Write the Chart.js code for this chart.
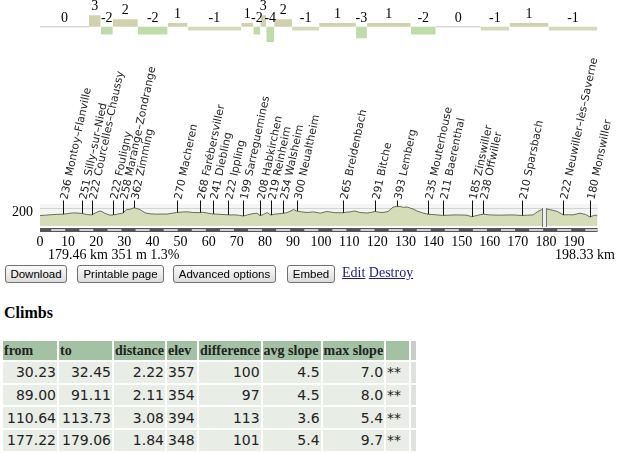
<!DOCTYPE html>
<html>
<head>
<meta charset="utf-8">
<title>Route profile</title>
<script src="https://cdn.jsdelivr.net/npm/chart.js@4.4.0/dist/chart.umd.min.js"></script>
<style>
body { margin: 0; width: 640px; height: 453px; overflow: hidden; background: #fff; font-family: "Liberation Serif", serif; }
#gradeChart { position: absolute; left: 0; top: 0; }
#profileChart { position: absolute; left: 0; top: 44px; }
.txt { position: absolute; font: 14px "Liberation Serif", serif; line-height: 16px; white-space: nowrap; color: #000; }
.btn { position: absolute; top: 265px; height: 18px; box-sizing: border-box; border: 1px solid #707070; border-radius: 3px;
       background: linear-gradient(#fbfbfb, #dcdcdc); font: 11.5px "Liberation Sans", sans-serif; line-height: 16px;
       text-align: center; padding: 0; color: #000; }
.txt a { color: #1a1a8c; }
h3 { position: absolute; left: 4px; top: 304px; margin: 0; font: bold 16px "Liberation Serif", serif; line-height: 18px; }
table { position: absolute; left: 1px; top: 339px; border-spacing: 2px; table-layout: fixed; color: #222; white-space: nowrap; }
th { background: #a3c2a3; font: bold 14px "Liberation Serif", serif; text-align: left; height: 19px; padding: 0 1px; overflow: hidden; }
td { background: #e8ede6; font: 14px "DejaVu Sans", sans-serif; height: 20.7px; line-height: 18px; padding: 0 1px; text-align: right; overflow: hidden; }
td.l { text-align: left; }
th.e { background: #c8cfc8; }
td.e { background: #dde2dc; }
</style>
</head>
<body>
<canvas id="gradeChart" width="640" height="44"></canvas>
<canvas id="profileChart" width="640" height="206"></canvas>

<div class="txt" style="left:48px; top:247px;">179.46 km 351 m 1.3%</div>
<div class="txt" style="left:555px; top:247px;">198.33 km</div>

<button class="btn" style="left:5px; width:62px;">Download</button>
<button class="btn" style="left:77px; width:87px;">Printable page</button>
<button class="btn" style="left:173px; width:103px;">Advanced options</button>
<button class="btn" style="left:287px; width:48px;">Embed</button>
<div class="txt" style="left:342px; top:265px;"><a href="#">Edit</a> <a href="#">Destroy</a></div>

<h3>Climbs</h3>
<table>
<colgroup><col style="width:54px"><col style="width:53px"><col style="width:51px"><col style="width:30px"><col style="width:61px"><col style="width:58px"><col style="width:61px"><col style="width:23px"><col style="width:5px"></colgroup>
<tr><th>from</th><th>to</th><th>distance</th><th>elev</th><th>difference</th><th>avg slope</th><th>max slope</th><th></th><th class="e"></th></tr>
<tr><td>30.23</td><td>32.45</td><td>2.22</td><td class="l">357</td><td>100</td><td>4.5</td><td>7.0</td><td class="l">**</td><td class="e"></td></tr>
<tr><td>89.00</td><td>91.11</td><td>2.11</td><td class="l">354</td><td>97</td><td>4.5</td><td>8.0</td><td class="l">**</td><td class="e"></td></tr>
<tr><td>110.64</td><td>113.73</td><td>3.08</td><td class="l">394</td><td>113</td><td>3.6</td><td>5.4</td><td class="l">**</td><td class="e"></td></tr>
<tr><td>177.22</td><td>179.06</td><td>1.84</td><td class="l">348</td><td>101</td><td>5.4</td><td>9.7</td><td class="l">**</td><td class="e"></td></tr>
</table>

<script>
// Gradient strip: segment boundaries (km) and the gradient (%) of each segment
const gradeBounds = [0, 17.4, 21.6, 25.9, 34.8, 45.4, 52.5, 71.6, 75.9, 78.4, 80.5, 83.3, 89.7, 99.3, 112.4, 116.3, 131.9, 140.8, 156.7, 167, 180.9, 198.33];
const gradeValues = [0, 3, -2, 2, -2, 1, -1, 1, -2, 3, -4, 2, -1, 1, -3, 1, -2, 0, -1, 1, -1];

// Elevation profile (km, m)
const profileKm = [0, 2, 3.6, 6, 8.3, 10, 11.9, 13.5, 14.8, 16.7, 18.4, 20, 21.3, 22.2, 23.1, 24.9, 26.1, 27.8, 29.4, 30.9,
    32.2, 33.4, 34.5, 35.6, 37.4, 39.1, 41.6, 43.5, 45.2, 47, 48.6, 50.5, 52.3, 54.4, 56.9, 58, 59.4, 61.4, 63.3, 65.1,
    67, 69.4, 71, 72.3, 73.8, 75.4, 77.2, 78.3, 79.5, 80.8, 82.1, 83.4, 84.7, 86.6, 88, 89.2, 90.2, 91.3, 93, 95,
    97.3, 99.7, 102, 103.5, 105, 107.9, 109, 110.3, 112, 113.8, 116.3, 118, 119.2, 120.5, 122, 123.8, 125.6, 126.9, 128.1, 129.3,
    130.6, 131.6, 132.7, 134.1, 136.2, 138.1, 140.5, 143.3, 145.8, 148.3, 151.9, 153.6, 155.5, 157.7, 160, 163.6, 167.2, 169.5, 171.4, 173.5,
    175.4, 177.2, 179.46, 181.5, 183.9, 186.2, 188, 189.6, 192.1, 194, 195.7, 197, 198.33];
const profileElev = [210, 216, 224, 232, 236, 250, 262, 258, 251, 230, 222, 270, 300, 284, 252, 216, 222, 240, 258, 330,
    338, 362, 350, 326, 262, 244, 236, 240, 238, 256, 270, 280, 284, 270, 268, 276, 260, 241, 236, 230,
    222, 222, 212, 199, 222, 244, 256, 208, 232, 270, 219, 236, 244, 254, 270, 300, 330, 300, 284, 270,
    282, 256, 290, 278, 266, 265, 276, 282, 300, 270, 260, 274, 291, 276, 270, 290, 376, 393, 390, 372,
    380, 360, 340, 300, 260, 235, 226, 211, 218, 222, 216, 185, 212, 238, 222, 216, 222, 218, 210, 216,
    222, 294, 351, 326, 294, 222, 226, 222, 256, 232, 180, 212, 216];

// Places along the route
const placeKm = [8.3, 14.8, 18.4, 26.1, 29.4, 33.4, 48.6, 56.9, 61.4, 67, 72.3, 78.3, 82.1, 86.6, 91.3,
    107.9, 119.2, 126.9, 138.1, 143.3, 153.6, 157.7, 171.4, 186.2, 195.7];
const placeElev = [236, 251, 222, 222, 258, 362, 270, 268, 241, 222, 199, 208, 219, 254, 300,
    265, 291, 393, 235, 211, 185, 238, 210, 222, 180];
const placeNames = ['Montoy–Flanville', 'Silly–sur–Nied', 'Courcelles–Chaussy', 'Fouligny', 'Marange–Zondrange', 'Zimming',
    'Macheren', 'Farébersviller', 'Diebling', 'Ippling', 'Sarreguemines', 'Habkirchen', 'Reinheim', 'Walsheim', 'Neualtheim',
    'Breidenbach', 'Bitche', 'Lemberg', 'Mouterhouse', 'Baerenthal', 'Zinswiller', 'Offwiller', 'Sparsbach',
    'Neuwiller–lès–Saverne', 'Monswiller'];

// Axes
const xTicks = [0, 10, 20, 30, 40, 50, 60, 70, 80, 90, 100, 110, 120, 130, 140, 150, 160, 170, 180, 190];
const yGrid = [200, 250, 300, 350, 400];
const yLabels = [200];
const totalKm = 198.33;
const markerKm = 179.46;

// Colour of a gradient block
function gradeColor(v) {
    if (v > 0) return '#cfd2ad';
    if (v <= -2) return '#bddca9';
    return '#d3d9b9';
}

// Numbers above the gradient blocks
const gradeLabels = {
    id: 'gradeLabels',
    afterDatasetsDraw(chart) {
        const { ctx, scales: { x, y } } = chart;
        ctx.save();
        ctx.font = '14px "Liberation Serif"';
        ctx.fillStyle = '#000';
        ctx.textAlign = 'center';
        ctx.textBaseline = 'alphabetic';
        gradeValues.forEach((v, i) => {
            const px = (x.getPixelForValue(gradeBounds[i]) + x.getPixelForValue(gradeBounds[i + 1])) / 2;
            const py = y.getPixelForValue(Math.max(v, 0)) - 5;
            ctx.fillText(String(v), px, py);
        });
        ctx.restore();
    }
};

new Chart(document.getElementById('gradeChart'), {
    type: 'line',
    data: {
        datasets: gradeValues.map((v, i) => ({
            data: [{ x: gradeBounds[i], y: v }, { x: gradeBounds[i + 1], y: v }],
            fill: v === 0 ? false : 'origin',
            backgroundColor: gradeColor(v),
            borderColor: v === 0 ? '#c4c4c4' : 'rgba(0,0,0,0)',
            borderWidth: 1,
            pointRadius: 0
        }))
    },
    options: {
        responsive: false,
        devicePixelRatio: 1,
        animation: false,
        layout: { padding: { left: 40, right: 42.5, top: 0, bottom: 0 } },
        plugins: { legend: { display: false }, tooltip: { enabled: false } },
        scales: {
            x: { type: 'linear', min: 0, max: totalKm, display: false },
            y: { min: -4.5, max: 7, display: false }
        }
    },
    plugins: [gradeLabels]
});

// Background, distance bar, position marker and place labels of the profile
const profileExtras = {
    id: 'profileExtras',
    beforeDraw(chart) {
        const { ctx, chartArea: a } = chart;
        ctx.save();
        ctx.fillStyle = '#f4f4f4';
        ctx.fillRect(a.left, a.top, a.right - a.left, a.bottom - a.top);
        ctx.restore();
    },
    afterDraw(chart) {
        const { ctx, chartArea: a, scales: { x, y } } = chart;
        ctx.save();

        // distance bar under the profile
        ctx.fillStyle = '#555';
        ctx.fillRect(x.getPixelForValue(0), a.bottom + 2, x.getPixelForValue(totalKm) - x.getPixelForValue(0), 4);
        ctx.fillStyle = '#cfcfcf';
        xTicks.forEach(v => {
            const s = x.getPixelForValue(v + 4);
            const e = x.getPixelForValue(Math.min(v + 9, totalKm));
            if (e > s) ctx.fillRect(s, a.bottom + 3, e - s, 2);
        });

        // current position marker
        const mx = Math.round(x.getPixelForValue(markerKm));
        ctx.fillStyle = '#eeeeee';
        ctx.fillRect(mx - 1, a.top + 4, 3, a.bottom - a.top - 3);
        ctx.strokeStyle = '#777';
        ctx.lineWidth = 1;
        ctx.beginPath();
        ctx.moveTo(mx - 1.5, a.top + 4); ctx.lineTo(mx - 1.5, a.bottom + 1);
        ctx.moveTo(mx + 2.5, a.top + 4); ctx.lineTo(mx + 2.5, a.bottom + 1);
        ctx.stroke();

        // place ticks and rotated names
        const labelY = a.top - 3.5;
        ctx.strokeStyle = '#111';
        ctx.fillStyle = '#222';
        ctx.font = '10.8px "DejaVu Sans"';
        ctx.textAlign = 'left';
        ctx.textBaseline = 'middle';
        placeKm.forEach((km, i) => {
            const px = Math.round(x.getPixelForValue(km)) + 0.5;
            const py = y.getPixelForValue(placeElev[i]);
            ctx.beginPath();
            ctx.moveTo(px, py);
            ctx.lineTo(px, labelY);
            ctx.stroke();
            ctx.save();
            ctx.translate(px + 1, labelY - 1);
            ctx.rotate(-78 * Math.PI / 180);
            ctx.fillText(placeElev[i] + ' ' + placeNames[i], 0, 0);
            ctx.restore();
        });
        ctx.restore();
    }
};

new Chart(document.getElementById('profileChart'), {
    type: 'line',
    data: {
        datasets: [{
            data: profileKm.map((km, i) => ({ x: km, y: profileElev[i] })),
            borderColor: '#66705a',
            borderWidth: 1,
            backgroundColor: '#d5ddb8',
            fill: 'origin',
            pointRadius: 0,
            tension: 0
        }]
    },
    options: {
        responsive: false,
        devicePixelRatio: 1,
        animation: false,
        layout: { padding: { left: 0, right: 42.5, top: 160, bottom: 0 } },
        plugins: { legend: { display: false }, tooltip: { enabled: false } },
        scales: {
            x: {
                type: 'linear',
                min: 0,
                max: totalKm,
                afterBuildTicks: axis => { axis.ticks = xTicks.map(v => ({ value: v })); },
                afterFit: axis => { axis.height = 24; },
                grid: { display: false, drawTicks: false },
                border: { display: false },
                ticks: { autoSkip: false, maxRotation: 0, padding: 8, color: '#000', font: { family: 'Liberation Serif', size: 14 } }
            },
            y: {
                min: 0,
                max: 440,
                afterBuildTicks: axis => { axis.ticks = yGrid.map(v => ({ value: v })); },
                afterFit: axis => { axis.width = 40; },
                grid: { color: '#d4d4d4', drawTicks: false },
                border: { display: false },
                ticks: {
                    padding: 7,
                    labelOffset: -4,
                    color: '#000',
                    font: { family: 'Liberation Serif', size: 14 },
                    callback: v => yLabels.includes(v) ? String(v) : ''
                }
            }
        }
    },
    plugins: [profileExtras]
});
</script>
</body>
</html>
